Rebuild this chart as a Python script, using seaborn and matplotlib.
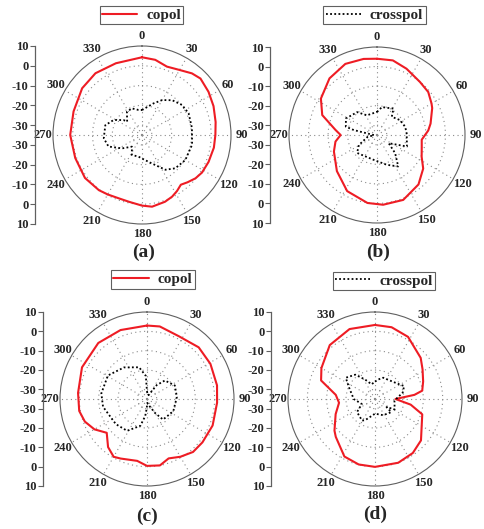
import numpy as np
import matplotlib
matplotlib.use("Agg")
import matplotlib.pyplot as plt
import seaborn as sns
from matplotlib.lines import Line2D

# ---------------- radiation pattern data (angle in degrees, level in dB) ----------------
a_co_deg = [0, 10, 20, 29, 39, 46, 57, 68, 80, 90, 100, 112, 122, 129, 136, 142, 148, 154,
            161, 172, 180, 191, 200, 210, 218, 233, 251, 270, 289, 308, 323, 340, 360]
a_co_db = [4.3, 3.6, 1.8, 2.8, 5.1, 6.1, 5.1, 4.0, 2.8, 2.1, 1.9, 1.3, 0.8, -0.2, -1.8, -3.1, -1.6, -0.3,
           0.7, 1.6, 0.7, -0.6, -0.9, -0.3, 0.4, 1.1, 0.7, 1.3, 1.6, 3.4, 4.1, 3.6, 4.3]
a_x_deg = [0, 7, 20, 30, 41, 53, 65, 82, 101, 120, 135, 146, 161, 175, 189, 207, 221, 236,
           251, 265, 285, 298, 309, 312, 327, 339, 352, 360]
a_x_db = [-22.4, -21.3, -18.0, -14.6, -11.7, -9.7, -9.0, -9.5, -9.2, -9.7, -11.2, -13.8, -19.8, -22.5,
          -23.9, -23.7, -27.2, -22.9, -17.1, -15.6, -15.8, -18.8, -23.0, -24.9, -21.0, -20.6, -22.2, -22.4]

b_co_deg = [0, 12, 24, 39, 50, 60, 64, 78, 85, 96, 106, 116, 126, 140, 158, 175, 188, 208,
            228, 249, 261, 270, 277, 290, 303, 320, 336, 350, 360]
b_co_db = [4.0, 4.0, 2.1, -0.1, -0.8, -2.8, -3.6, -7.0, -8.7, -12.0, -11.2, -9.6, -5.8, -2.0, 0.8, 0.8, 0.1, -2.5,
           -7.4, -11.4, -13.5, -16.4, -13.6, -5.2, -0.8, 2.8, 4.8, 4.5, 4.0]
b_x_deg = [0, 10, 32, 39, 57, 74, 87, 111, 125, 135, 146, 162, 188, 228, 241, 258, 268,
           282, 285, 298, 319, 333, 360]
b_x_db = [-23.2, -20.5, -19.1, -23.0, -21.0, -20.0, -19.8, -18.6, -27.7, -21.9, -15.6, -19.0, -22.2, -21.3,
          -24.4, -30.0, -33.5, -22.9, -18.5, -17.0, -19.5, -23.7, -23.2]

c_co_deg = [0, 10, 27, 45, 61, 79, 93, 112, 128, 139, 150, 160, 169, 180, 189, 204, 210, 219,
            230, 240, 250, 260, 275, 296, 319, 339, 360]
c_co_db = [3.0, 3.1, 1.4, 2.8, 2.5, 1.9, 1.3, 1.6, 1.4, 1.3, -0.5, -2.3, 0.0, -0.4, -2.6, -1.3, -0.5, -3.0,
           -7.8, -3.6, -0.8, 0.6, 0.8, 2.4, 3.4, 3.2, 3.0]
c_x_deg = [0, 10, 22, 35, 44, 64, 86, 115, 142, 150, 160, 175, 182, 186, 194, 212, 231,
           260, 277, 301, 324, 346, 357, 360]
c_x_db = [-31.0, -33.0, -32.8, -26.2, -21.7, -19.0, -19.5, -20.0, -21.5, -26.6, -31.0, -33.0, -30.0, -26.1,
          -20.7, -15.6, -14.3, -11.9, -11.2, -11.4, -14.8, -18.1, -23.0, -31.0]

d_co_deg = [0, 13, 28, 48, 58, 70, 80, 84, 90, 99, 108, 132, 145, 160, 180, 194, 208, 226,
            232, 249, 264, 276, 289, 300, 320, 340, 360]
d_co_db = [3.3, 3.1, 1.4, -3.2, -6.0, -8.5, -10.2, -14.5, -24.4, -16.3, -9.3, -3.0, -0.9, 0.1, 0.1, -0.1,
           -1.3, -6.8, -8.4, -13.2, -16.3, -14.6, -5.5, -3.0, 1.4, 3.5, 3.3]
d_x_deg = [0, 10, 21, 42, 59, 66, 77, 95, 118, 125, 129, 153, 180, 205, 211, 234, 249,
           270, 294, 306, 321, 333, 347, 360]
d_x_db = [-26.0, -24.7, -23.2, -22.5, -20.3, -18.5, -20.3, -24.9, -23.5, -27.7, -24.2, -25.6, -27.4, -22.9,
          -22.0, -23.5, -27.7, -24.0, -20.3, -16.3, -18.8, -23.7, -27.2, -26.0]

theta_ticks = list(range(0, 360, 30))
theta_labels = [str(t) for t in theta_ticks]
r_ticks = [10, 0, -10, -20, -30]
r_tick_labels = ["10", "0", "-10", "-20", "-30"]
panel_tags = ["(a)", "(b)", "(c)", "(d)"]
legend_texts = ["copol", "crosspol", "copol", "crosspol"]

# ---------------- style ----------------
sns.set_style("white")
plt.rcParams["font.family"] = ["Liberation Serif", "DejaVu Serif"]
plt.rcParams["font.weight"] = "bold"

RED = "#ee1c24"
GRID = "#8a8a8a"
EDGE = "#606060"
R_MIN, R_MAX = -35, 10
DOTS = (0, (1.0, 1.3))

W, H = 484, 529
fig = plt.figure(figsize=(W / 100, H / 100), dpi=100)
fig.patch.set_facecolor("white")

# layout in pixels: polar centre, radius, left axis x, legend centre, tag centre
layout = [
    dict(cx=142, cy=135, R=89, axx=35, lg=(141.5, 15), tag=(144, 252)),
    dict(cx=377, cy=135, R=88, axx=270, lg=(374.5, 15), tag=(378, 252)),
    dict(cx=147, cy=399, R=87, axx=43, lg=(153, 279.5), tag=(147, 516)),
    dict(cx=375, cy=399, R=87, axx=271, lg=(384, 281), tag=(375, 514)),
]
curves = [
    (a_co_deg, a_co_db, a_x_deg, a_x_db),
    (b_co_deg, b_co_db, b_x_deg, b_x_db),
    (c_co_deg, c_co_db, c_x_deg, c_x_db),
    (d_co_deg, d_co_db, d_x_deg, d_x_db),
]


def frac_rect(x0, y0, w, h):
    return [x0 / W, 1 - (y0 + h) / H, w / W, h / H]


for i, (lay, (co_deg, co_db, x_deg, x_db)) in enumerate(zip(layout, curves)):
    cx, cy, R = lay["cx"], lay["cy"], lay["R"]
    ax = fig.add_axes(frac_rect(cx - R, cy - R, 2 * R, 2 * R), projection="polar")
    ax.set_theta_zero_location("N")
    ax.set_theta_direction(-1)

    sns.lineplot(x=np.deg2rad(co_deg), y=co_db, ax=ax, color=RED, linewidth=1.5,
                 sort=False, estimator=None)
    sns.lineplot(x=np.deg2rad(x_deg), y=x_db, ax=ax, color="black", linewidth=1.3,
                 linestyle=DOTS, sort=False, estimator=None)

    ax.set_rlim(R_MIN, R_MAX)
    ax.set_rgrids([-30, -20, -10, 0], labels=[])
    ax.set_thetagrids(theta_ticks, labels=theta_labels)
    ax.tick_params(axis="x", pad=-3, labelsize=9)
    for lbl in ax.get_xticklabels():
        lbl.set_fontweight("bold")
    ax.grid(True, color=GRID, linestyle=(0, (1, 3)), linewidth=0.8)
    ax.spines["polar"].set_color(EDGE)
    ax.spines["polar"].set_linewidth(0.8)
    ax.set_xlabel("")
    ax.set_ylabel("")

    # vertical level scale at the left of each pattern
    axl = fig.add_axes(frac_rect(lay["axx"], cy - R, 1, 2 * R))
    axl.patch.set_visible(False)
    axl.set_ylim(-(R_MAX - R_MIN), R_MAX - R_MIN)
    pos = [r - R_MIN for r in r_ticks]
    axl.set_yticks(pos + [-p for p in pos])
    axl.set_yticklabels(r_tick_labels + r_tick_labels)
    axl.set_xticks([])
    for s in ["top", "right", "bottom"]:
        axl.spines[s].set_visible(False)
    axl.spines["left"].set_color(EDGE)
    axl.spines["left"].set_linewidth(0.9)
    axl.tick_params(axis="y", direction="out", length=3.5, width=0.8, color=EDGE,
                    pad=1, labelsize=9, left=True)
    for lbl in axl.get_yticklabels():
        lbl.set_fontweight("bold")

    # legend box
    if legend_texts[i] == "copol":
        handle = Line2D([], [], color=RED, linewidth=1.5)
    else:
        handle = Line2D([], [], color="black", linewidth=1.3, linestyle=DOTS)
    lx, ly = lay["lg"]
    leg = fig.legend(handles=[handle], labels=[legend_texts[i]], loc="center",
                     bbox_to_anchor=(lx / W, 1 - ly / H), frameon=True, fancybox=False,
                     edgecolor=EDGE, framealpha=1, prop={"weight": "bold", "size": 11},
                     handlelength=2.3, handletextpad=0.6, borderpad=0.15, borderaxespad=0)
    leg.get_frame().set_linewidth(0.8)

    tx, ty = lay["tag"]
    fig.text(tx / W, 1 - ty / H, panel_tags[i], ha="center", va="center",
             fontsize=14, fontweight="bold")

fig.savefig("out.png", dpi=100, facecolor="white")
